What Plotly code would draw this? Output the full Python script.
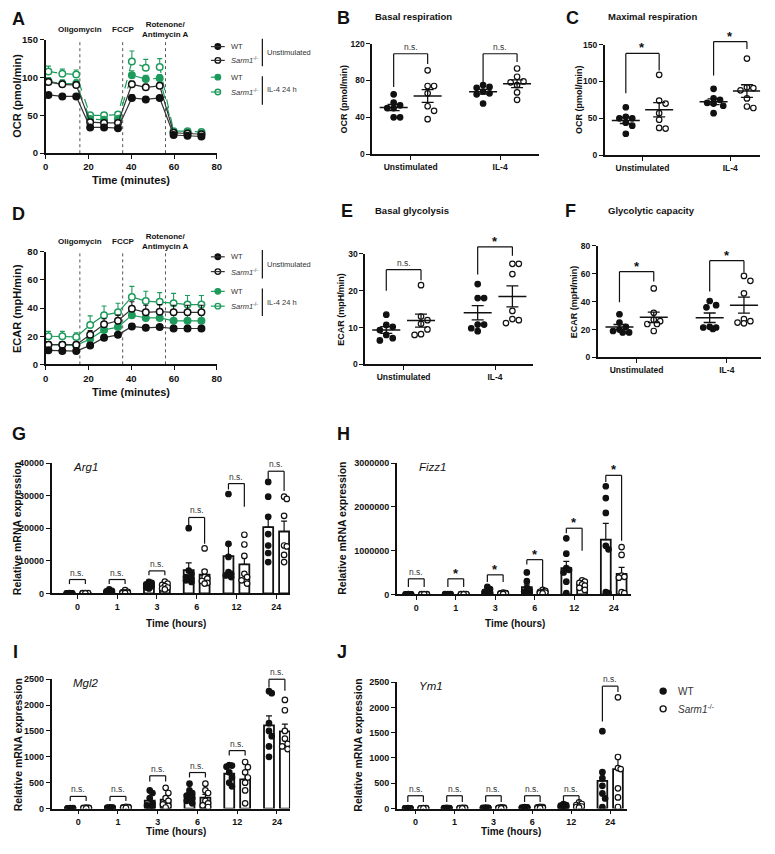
import numpy as np
import plotly.graph_objects as go

VW, VH = 775, 854          # browser window
OX, OY = 8, 8              # default page margin in the browser
W, H = VW - OX, VH - OY    # figure size so it fills the visible window
FONT = "Liberation Sans, Arial, Helvetica, sans-serif"
GREEN = "#1e9b5c"
BLACK = "#111111"
GREY = "#333333"

# ---------------- data ----------------
seahorse_time = [1.3, 7.8, 14.3, 20.8, 27.3, 33.8, 40.3, 46.8, 53.3, 59.8, 66.3, 72.8]
injection_time = [16, 36, 56]
injection_labels = ["Oligomycin", "FCCP", "Rotenone/<br>Antimycin A"]

ocr_wt_unstim = [77, 75, 75, 34, 34, 33, 73, 71, 73, 24, 23, 22]
ocr_wt_unstim_err = [3, 3, 3, 2, 2, 2, 4, 3, 3, 2, 2, 2]
ocr_ko_unstim = [94, 91, 90, 41, 40, 40, 91, 87, 89, 27, 26, 25]
ocr_ko_unstim_err = [4, 4, 4, 3, 3, 3, 4, 4, 4, 2, 2, 2]
ocr_wt_il4 = [95, 92, 92, 45, 44, 45, 103, 98, 99, 28, 27, 26]
ocr_wt_il4_err = [5, 5, 5, 3, 3, 3, 6, 5, 5, 2, 2, 2]
ocr_ko_il4 = [108, 105, 104, 50, 50, 51, 121, 113, 114, 29, 29, 28]
ocr_ko_il4_err = [7, 6, 6, 3, 3, 3, 14, 11, 11, 2, 2, 2]

ecar_wt_unstim = [10, 9.5, 9.5, 13.5, 19, 21, 27, 26, 26.5, 25.5, 25.5, 25.5]
ecar_wt_unstim_err = [1, 1, 1, 2, 2, 1.5, 2, 1.5, 1.5, 2, 2, 2]
ecar_ko_unstim = [14, 14, 14, 21, 28.5, 31, 39.5, 37, 37.5, 37, 37, 37]
ecar_ko_unstim_err = [2, 2, 2, 3, 4, 4, 5, 5, 5, 5, 5, 5]
ecar_wt_il4 = [14, 14, 13.5, 18, 24.5, 26.5, 35, 33, 33, 31, 31, 31]
ecar_wt_il4_err = [2, 2, 2, 3, 3, 3, 4, 4, 4, 4, 4, 4]
ecar_ko_il4 = [20, 20, 19.5, 28, 35, 37, 48, 45, 44.5, 43.5, 42.5, 42.5]
ecar_ko_il4_err = [3.5, 3.5, 3, 6.5, 6.5, 6.5, 7.5, 7, 6.5, 7, 6.5, 6.5]

conditions = ["Unstimulated", "IL-4"]

basal_resp_wt_unstim = [65, 56, 53, 50, 50, 40, 40]
basal_resp_ko_unstim = [91, 74, 74, 66, 52, 47, 38]
basal_resp_wt_il4 = [73, 75, 72, 66, 65, 68, 55]
basal_resp_ko_il4 = [93, 84, 79, 78, 75, 67, 59]
basal_resp_sig = ["n.s.", "n.s."]
basal_resp_br_top = [109, 109]
basal_resp_br_left = [73, 75]
basal_resp_br_right = [98, 100]

max_resp_wt_unstim = [65, 52, 50, 50, 44, 40, 29]
max_resp_ko_unstim = [109, 74, 70, 57, 48, 37, 36]
max_resp_wt_il4 = [90, 77, 75, 71, 70, 67, 57]
max_resp_ko_il4 = [131, 92, 91, 88, 77, 66, 64]
max_resp_sig = ["*", "*"]
max_resp_br_top = [138, 154]
max_resp_br_left = [84, 108]
max_resp_br_right = [115, 144]

basal_gly_wt_unstim = [13.5, 10.7, 10.2, 9.3, 8, 7.1, 6.5]
basal_gly_ko_unstim = [21.5, 13, 12, 11, 9.5, 8.2, 8]
basal_gly_wt_il4 = [21.8, 18, 18, 10.8, 10.8, 9.8, 9]
basal_gly_ko_il4 = [27.3, 27.3, 24.5, 14.5, 12.3, 11.2, 12]
basal_gly_sig = ["n.s.", "*"]
basal_gly_br_top = [25.7, 31.9]
basal_gly_br_left = [20, 24.4]
basal_gly_br_right = [22.8, 29.5]

gly_cap_wt_unstim = [31, 25, 22, 20, 19, 18, 18]
gly_cap_ko_unstim = [49.5, 32, 27, 26, 24, 24, 19]
gly_cap_wt_il4 = [40.5, 37.5, 36, 22, 21.5, 21.5, 20.5]
gly_cap_ko_il4 = [58.5, 55, 46, 27.5, 26, 25, 24.5]
gly_cap_sig = ["*", "*"]
gly_cap_br_top = [61.6, 69.4]
gly_cap_br_left = [39.6, 47.4]
gly_cap_br_right = [54.5, 60.9]

time_hours = ["0", "1", "3", "6", "12", "24"]

arg1_wt = [[50, 40, 30, 20, 20, 10, 10],
           [1200, 800, 600, 400, 300, 200, 100],
           [3500, 3200, 2800, 2500, 2200, 1800, 1500],
           [20000, 7000, 6000, 5000, 4500, 4000, 3500],
           [30500, 15200, 11200, 6500, 6000, 5500, 5000],
           [34200, 29700, 23500, 18200, 14700, 12400, 9600]]
arg1_ko = [[80, 60, 50, 40, 30, 20, 10],
           [1000, 500, 300, 200, 150, 100, 50],
           [3600, 3000, 2600, 2200, 1800, 1500, 1200],
           [13800, 6700, 5000, 4500, 3800, 3200, 3000],
           [18000, 15000, 11500, 6000, 5000, 4000, 3000],
           [29700, 29000, 23800, 14700, 14400, 11800, 9600]]
arg1_sig = ["n.s.", "n.s.", "n.s.", "n.s.", "n.s.", "n.s."]
arg1_br_top = [4250, 4250, 6900, 23300, 33700, 37500]
arg1_br_left = [2840, 2840, 5570, 19750, 31900, 35200]
arg1_br_right = [2840, 2840, 5570, 15200, 26600, 31400]

fizz1_wt = [[3000, 2000, 1500, 1000, 800, 500, 300],
            [5000, 4000, 3000, 2000, 1500, 1000, 500],
            [170000, 120000, 60000, 30000, 15000, 8000, 5000],
            [500000, 300000, 150000, 100000, 60000, 30000, 20000],
            [1280000, 930000, 600000, 560000, 500000, 290000, 30000],
            [2470000, 2200000, 1860000, 1110000, 1030000, 50000, 30000]]
fizz1_ko = [[5000, 4000, 3000, 2000, 1500, 1000, 500],
            [6000, 5000, 4000, 3000, 2000, 1000, 500],
            [40000, 30000, 25000, 20000, 15000, 10000, 5000],
            [100000, 80000, 60000, 50000, 40000, 30000, 20000],
            [320000, 290000, 260000, 230000, 200000, 150000, 100000],
            [1080000, 900000, 430000, 400000, 380000, 50000, 30000]]
fizz1_sig = ["n.s.", "*", "*", "*", "*", "*"]
fizz1_br_top = [355000, 355000, 446000, 793000, 1511000, 2720000]
fizz1_br_left = [166000, 166000, 280000, 680000, 1398000, 2570000]
fizz1_br_right = [166000, 166000, 280000, 166000, 997000, 1224000]

mgl2_wt = [[10, 8, 6, 5, 4, 3, 2],
           [25, 20, 18, 15, 12, 10, 8],
           [350, 300, 200, 100, 60, 40, 20],
           [480, 350, 300, 250, 200, 150, 100],
           [840, 830, 810, 700, 600, 500, 430],
           [2270, 2230, 1650, 1500, 1400, 1200, 1000]]
mgl2_ko = [[20, 15, 12, 10, 8, 6, 4],
           [35, 30, 25, 20, 15, 12, 10],
           [400, 300, 200, 150, 80, 50, 20],
           [480, 350, 300, 150, 100, 60, 30],
           [900, 800, 700, 600, 500, 350, 100],
           [2100, 1900, 1500, 1350, 1250, 1200, 1150]]
mgl2_sig = ["n.s.", "n.s.", "n.s.", "n.s.", "n.s.", "n.s."]
mgl2_br_top = [234, 234, 633, 696, 1120, 2500]
mgl2_br_left = [146, 146, 525, 601, 1025, 2342]
mgl2_br_right = [146, 146, 525, 601, 1025, 2278]

ym1_wt = [[8, 6, 5, 4, 3, 2, 1],
          [12, 10, 8, 6, 5, 4, 3],
          [20, 15, 12, 10, 8, 6, 4],
          [30, 25, 20, 15, 12, 10, 8],
          [90, 70, 60, 50, 40, 30, 20],
          [1530, 720, 600, 450, 300, 200, 30]]
ym1_ko = [[10, 8, 6, 5, 4, 3, 2],
          [15, 12, 10, 8, 6, 5, 4],
          [25, 20, 15, 12, 10, 8, 5],
          [35, 30, 25, 20, 15, 10, 8],
          [120, 90, 70, 50, 40, 30, 20],
          [2200, 1020, 800, 780, 400, 220, 30]]
ym1_sig = ["n.s.", "n.s.", "n.s.", "n.s.", "n.s.", "n.s."]
ym1_br_top = [253, 253, 253, 253, 253, 2422]
ym1_br_left = [130, 130, 130, 130, 130, 1721]
ym1_br_right = [130, 130, 130, 130, 130, 2305]

# ---------------- layout geometry (window pixels) ----------------
order = ["A", "B", "C", "D", "E", "F", "G", "H", "I", "J"]
geom = {"A": (43, 216, 34, 149), "B": (373, 542, 38, 150), "C": (608, 765, 39, 151),
        "D": (43, 216, 249, 363), "E": (366, 535, 251, 363), "F": (601, 766, 243, 356),
        "G": (49, 290, 463, 595), "H": (398, 635, 463, 596),
        "I": (49, 290, 682, 813), "J": (398, 630, 685, 813)}
xranges = {"A": (0, 80), "B": (-0.43, 1.44), "C": (-0.43, 1.34), "D": (0, 80),
           "E": (-0.42, 1.41), "F": (-0.43, 1.38), "G": (-0.65, 5.35), "H": (-0.49, 5.45),
           "I": (-0.67, 5.33), "J": (-0.48, 5.42)}
yranges = {"A": (0, 150), "B": (0, 120), "C": (0, 150), "D": (0, 80), "E": (0, 30),
           "F": (0, 80), "G": (0, 40000), "H": (0, 3000000), "I": (0, 2500), "J": (0, 2500)}
yticks = {"A": [0, 50, 100, 150], "B": [0, 40, 80, 120], "C": [0, 50, 100, 150],
          "D": [0, 20, 40, 60, 80], "E": [0, 10, 20, 30], "F": [0, 20, 40, 60, 80],
          "G": [0, 10000, 20000, 30000, 40000], "H": [0, 1000000, 2000000, 3000000],
          "I": [0, 500, 1000, 1500, 2000, 2500], "J": [0, 500, 1000, 1500, 2000, 2500]}

axref = {k: ("" if i == 0 else str(i + 1)) for i, k in enumerate(order)}

traces = []
shapes = []
annotations = []


def pxx(x):
    return (x - OX) / W


def pxy(y):
    return 1 - (y - OY) / H


def to_px(key, xv, yv):
    x0, x1, y0, y1 = geom[key]
    xr, yr = xranges[key], yranges[key]
    px = x0 + (xv - xr[0]) / (xr[1] - xr[0]) * (x1 - x0)
    py = y1 - (yv - yr[0]) / (yr[1] - yr[0]) * (y1 - y0)
    return px, py


def line_px(xa, ya, xb, yb, color=BLACK, width=1.3, dash=None):
    ln = dict(color=color, width=width)
    if dash:
        ln["dash"] = dash
    shapes.append(dict(type="line", xref="paper", yref="paper", x0=pxx(xa), y0=pxy(ya),
                       x1=pxx(xb), y1=pxy(yb), line=ln, layer="above"))


def text_px(txt, x, y, size, bold=False, xanchor="center", yanchor="middle", angle=0, color=BLACK):
    annotations.append(dict(text=txt, x=pxx(x), y=pxy(y), xref="paper", yref="paper",
                            showarrow=False, xanchor=xanchor, yanchor=yanchor, textangle=angle,
                            borderpad=0,
                            font=dict(family=FONT, size=size, color=color,
                                      weight="bold" if bold else "normal")))


def swarm(vals, key, d, maxoff):
    x0, x1, y0, y1 = geom[key]
    xr, yr = xranges[key], yranges[key]
    ppy = (y1 - y0) / (yr[1] - yr[0])
    ppx = (x1 - x0) / (xr[1] - xr[0])
    vals = np.asarray(vals, dtype=float)
    step = d / 2.0
    cands = [0.0]
    k = 1
    while k * step <= maxoff + 1e-9:
        cands += [k * step, -k * step]
        k += 1
    placed = []
    offs = np.zeros(len(vals))
    for i in np.argsort(-vals, kind="stable"):
        y = vals[i] * ppy
        chosen, bestc, bestd = None, 0.0, -1.0
        for c in cands:
            md = min([np.hypot(c - a, y - b) for a, b in placed], default=1e9)
            if md >= d:
                chosen = c
                break
            if md > bestd:
                bestd, bestc = md, c
        if chosen is None:
            chosen = bestc
        placed.append((chosen, y))
        offs[i] = chosen / ppx
    return offs


def bracket(key, xl_v, xr_v, top, left, right, label):
    xl, yt = to_px(key, xl_v, top)
    xr, _ = to_px(key, xr_v, top)
    _, yl = to_px(key, xl_v, left)
    _, yr = to_px(key, xr_v, right)
    line_px(xl, yt, xr, yt, width=1.2)
    line_px(xl, yt, xl, yl, width=1.2)
    line_px(xr, yt, xr, yr, width=1.2)
    if label == "*":
        text_px("*", (xl + xr) / 2, yt + 3, 13, bold=True, yanchor="bottom")
    else:
        text_px("n.s.", (xl + xr) / 2, yt - 1, 8.5, yanchor="bottom", color=GREY)


def refs(key):
    return "x" + axref[key], "y" + axref[key]


# ---------------- A & D: Seahorse time courses ----------------
def seahorse(key, series, dashed_green):
    xa, ya = refs(key)
    ymax = yranges[key][1]
    for t in injection_time:
        traces.append(go.Scatter(x=[t, t], y=[0, ymax], mode="lines", xaxis=xa, yaxis=ya,
                                 line=dict(color="#555555", width=1, dash="dot"),
                                 showlegend=False, hoverinfo="skip"))
    for vals, err, color, filled in series:
        dash = "dash" if (dashed_green and color == GREEN) else "solid"
        traces.append(go.Scatter(
            x=seahorse_time, y=vals, mode="lines+markers", xaxis=xa, yaxis=ya, showlegend=False,
            line=dict(color=color if color == GREEN else "#333333", width=1.2, dash=dash),
            marker=dict(size=6.5, color=color if filled else "white", line=dict(color=color, width=1.5)),
            error_y=dict(type="data", array=err, arrayminus=[0] * len(err), symmetric=False,
                         color=color, thickness=1.1, width=2.5)))


seahorse("A", [(ocr_ko_il4, ocr_ko_il4_err, GREEN, False), (ocr_wt_il4, ocr_wt_il4_err, GREEN, True),
               (ocr_ko_unstim, ocr_ko_unstim_err, BLACK, False), (ocr_wt_unstim, ocr_wt_unstim_err, BLACK, True)],
         True)
seahorse("D", [(ecar_ko_il4, ecar_ko_il4_err, GREEN, False), (ecar_wt_il4, ecar_wt_il4_err, GREEN, True),
               (ecar_ko_unstim, ecar_ko_unstim_err, BLACK, False), (ecar_wt_unstim, ecar_wt_unstim_err, BLACK, True)],
         False)

for key, ylab_y, ylab2 in [("A", 24, 23.5), ("D", 238, 238)]:
    for t, lab in zip(injection_time, injection_labels):
        px, _ = to_px(key, t, 0)
        text_px(lab, px, ylab2 if "<br>" in lab else ylab_y, 8, bold=True)

# ---------------- B, C, E, F: dot plots ----------------
OFF = 0.19


def dot_panel(key, groups, sig, top, left, right):
    xa, ya = refs(key)
    for ci, side, vals, filled in groups:
        center = ci + side * OFF
        offs = swarm(vals, key, 6.5, 12)
        traces.append(go.Scatter(
            x=list(center + offs), y=vals, mode="markers", xaxis=xa, yaxis=ya, showlegend=False,
            marker=dict(size=5.5, color=BLACK if filled else "white", line=dict(color=BLACK, width=1.2))))
        m = float(np.mean(vals))
        s = float(np.std(vals, ddof=1) / np.sqrt(len(vals)))
        traces.append(go.Scatter(
            x=[center], y=[m], mode="markers", xaxis=xa, yaxis=ya, showlegend=False,
            marker=dict(symbol="line-ew", size=20, line=dict(color=BLACK, width=1.5)),
            error_y=dict(type="data", array=[s], color=BLACK, thickness=1.3, width=6)))
    for ci in range(2):
        bracket(key, ci - OFF, ci + OFF, top[ci], left[ci], right[ci], sig[ci])


dot_panel("B", [(0, -1, basal_resp_wt_unstim, True), (0, 1, basal_resp_ko_unstim, False),
                (1, -1, basal_resp_wt_il4, True), (1, 1, basal_resp_ko_il4, False)],
          basal_resp_sig, basal_resp_br_top, basal_resp_br_left, basal_resp_br_right)
dot_panel("C", [(0, -1, max_resp_wt_unstim, True), (0, 1, max_resp_ko_unstim, False),
                (1, -1, max_resp_wt_il4, True), (1, 1, max_resp_ko_il4, False)],
          max_resp_sig, max_resp_br_top, max_resp_br_left, max_resp_br_right)
dot_panel("E", [(0, -1, basal_gly_wt_unstim, True), (0, 1, basal_gly_ko_unstim, False),
                (1, -1, basal_gly_wt_il4, True), (1, 1, basal_gly_ko_il4, False)],
          basal_gly_sig, basal_gly_br_top, basal_gly_br_left, basal_gly_br_right)
dot_panel("F", [(0, -1, gly_cap_wt_unstim, True), (0, 1, gly_cap_ko_unstim, False),
                (1, -1, gly_cap_wt_il4, True), (1, 1, gly_cap_ko_il4, False)],
          gly_cap_sig, gly_cap_br_top, gly_cap_br_left, gly_cap_br_right)

# ---------------- G-J: bar charts ----------------
BOFF = 0.2


def bar_panel(key, wt, ko, sig, top, left, right):
    xa, ya = refs(key)
    for side, groups, filled in [(-1, wt, True), (1, ko, False)]:
        xs = [i + side * BOFF for i in range(len(groups))]
        means = [float(np.mean(g)) for g in groups]
        sems = [float(np.std(g, ddof=1) / np.sqrt(len(g))) for g in groups]
        traces.append(go.Bar(
            x=xs, y=means, width=0.25, xaxis=xa, yaxis=ya, showlegend=False,
            marker=dict(color="white", line=dict(color=BLACK, width=1.8)),
            error_y=dict(type="data", array=sems, arrayminus=[0] * len(sems), symmetric=False,
                         color=BLACK, thickness=1.2, width=3)))
        for i, g in enumerate(groups):
            offs = swarm(g, key, 5.5, 5)
            traces.append(go.Scatter(
                x=list(xs[i] + offs), y=g, mode="markers", xaxis=xa, yaxis=ya, showlegend=False,
                marker=dict(size=5.5, color=BLACK if filled else "white", line=dict(color=BLACK, width=1.2))))
    for i in range(len(wt)):
        bracket(key, i - BOFF, i + BOFF, top[i], left[i], right[i], sig[i])


bar_panel("G", arg1_wt, arg1_ko, arg1_sig, arg1_br_top, arg1_br_left, arg1_br_right)
bar_panel("H", fizz1_wt, fizz1_ko, fizz1_sig, fizz1_br_top, fizz1_br_left, fizz1_br_right)
bar_panel("I", mgl2_wt, mgl2_ko, mgl2_sig, mgl2_br_top, mgl2_br_left, mgl2_br_right)
bar_panel("J", ym1_wt, ym1_ko, ym1_sig, ym1_br_top, ym1_br_left, ym1_br_right)

# ---------------- legends (overlay axis in window pixels) ----------------
OV = "11"


def legend_item(x, y, color, filled, line, text, size=5.5, fsize=7.5, dash="solid"):
    if line:
        line_px(x - 7, y, x + 7, y, color=color if color == GREEN else "#333333", width=1.2,
                dash=None if dash == "solid" else "dash")
    traces.append(go.Scatter(x=[x], y=[y], mode="markers", xaxis="x" + OV, yaxis="y" + OV,
                             showlegend=False, hoverinfo="skip",
                             marker=dict(size=size, color=color if filled else "white",
                                         line=dict(color=color, width=1.4))))
    text_px(text, x + 12 if line else x + 14, y, fsize, xanchor="left", color=GREY)


KO = "<i>Sarm1</i><sup>-/-</sup>"
for ys, dash, br in [((41, 55, 72, 87), "dash", ((33, 61, 47), (71, 100, 85))),
                     ((254, 269, 289, 304), "solid", ((247, 276, 262), (286, 314, 300)))]:
    legend_item(217, ys[0], BLACK, True, True, "WT")
    legend_item(217, ys[1], BLACK, False, True, KO)
    legend_item(217, ys[2], GREEN, True, True, "WT", dash=dash)
    legend_item(217, ys[3], GREEN, False, True, KO, dash=dash)
    (a0, a1, at), (b0, b1, bt) = br
    line_px(262, a0, 262, a1, color=BLACK, width=1.2)
    line_px(262, b0, 262, b1, color=BLACK, width=1.2)
    text_px("Unstimulated", 266, at, 7.5, xanchor="left", color=GREY)
    text_px("IL-4 24 h", 266, bt, 7.5, xanchor="left", color=GREY)

legend_item(667, 694, BLACK, True, False, "WT", size=6, fsize=10)
legend_item(667, 712, BLACK, False, False, KO, size=6, fsize=10)

# ---------------- text: panel letters, titles, axis titles ----------------
for lab, x, y in [("A", 8, 13), ("B", 336, 12), ("C", 568, 12), ("D", 8, 211), ("E", 340, 208),
                  ("F", 567, 208), ("G", 8, 434), ("H", 336, 434), ("I", 9, 654), ("J", 336, 654)]:
    text_px(lab, x, y, 18, bold=True, xanchor="left")

text_px("Basal respiration", 375, 11, 9.5, bold=True, xanchor="left")
text_px("Maximal respiration", 610, 11, 9.5, bold=True, xanchor="left")
text_px("Basal glycolysis", 375, 207, 9.5, bold=True, xanchor="left")
text_px("Glycolytic capacity", 610, 207, 9.5, bold=True, xanchor="left")

text_px("OCR (pmol/min)", 14, 91, 11, bold=True, angle=-90)
text_px("ECAR (mpH/min)", 14, 306, 11, bold=True, angle=-90)
text_px("Time (minutes)", 129, 176, 11, bold=True)
text_px("Time (minutes)", 129, 391, 11, bold=True)
text_px("OCR (pmol/min)", 344, 94, 9, bold=True, angle=-90)
text_px("OCR (pmol/min)", 582, 95, 9, bold=True, angle=-90)
text_px("ECAR (mpH/min)", 342, 307, 9, bold=True, angle=-90)
text_px("ECAR (mpH/min)", 577, 300, 9, bold=True, angle=-90)

for x, yc in [(14, 529), (343, 529), (15, 748), (359, 749)]:
    text_px("Relative mRNA expression", x, yc, 10.5, bold=True, angle=-90)
for x, y in [(175, 626), (517, 626), (175, 836), (513, 836)]:
    text_px("Time (hours)", x, y, 10, bold=True)

for key, gene in [("G", "Arg1"), ("H", "Fizz1"), ("I", "Mgl2"), ("J", "Ym1")]:
    x0, _, y0, _ = geom[key]
    text_px("<i>" + gene + "</i>", x0 + 21, y0 + 4, 11.5, xanchor="left")

# ---------------- axes ----------------
layout = dict(width=W, height=H, margin=dict(l=0, r=0, t=0, b=0), paper_bgcolor="white",
              plot_bgcolor="rgba(0,0,0,0)", showlegend=False, barmode="overlay",
              shapes=shapes, annotations=annotations, font=dict(family=FONT, color=BLACK))

tick_size = {"A": 9.5, "D": 9.5, "B": 8.5, "C": 8.5, "E": 8.5, "F": 8.5,
             "G": 9, "H": 9, "I": 9, "J": 9}
for key in order:
    x0, x1, y0, y1 = geom[key]
    n = axref[key]
    fnt = dict(family=FONT, size=tick_size[key], color=BLACK, weight="bold")
    common = dict(showline=True, linecolor=BLACK, linewidth=1.6, ticks="outside", ticklen=4,
                  tickwidth=1.4, tickcolor=BLACK, showgrid=False, zeroline=False, tickfont=fnt,
                  fixedrange=True)
    if key in ("A", "D"):
        xt = dict(tickvals=[0, 20, 40, 60, 80], ticktext=["0", "20", "40", "60", "80"])
    elif key in ("B", "C", "E", "F"):
        xt = dict(tickvals=[0, 1], ticktext=conditions)
    else:
        xt = dict(tickvals=list(range(6)), ticktext=time_hours)
    layout["xaxis" + n] = dict(domain=[pxx(x0), pxx(x1)], range=list(xranges[key]),
                               anchor="y" + n, **xt, **common)
    layout["yaxis" + n] = dict(domain=[pxy(y1), pxy(y0)], range=list(yranges[key]),
                               anchor="x" + n, tickvals=yticks[key],
                               ticktext=[str(v) for v in yticks[key]], **common)

layout["xaxis" + OV] = dict(domain=[0, 1], range=[OX, OX + W], visible=False, anchor="y" + OV,
                            fixedrange=True)
layout["yaxis" + OV] = dict(domain=[0, 1], range=[OY + H, OY], visible=False, anchor="x" + OV,
                            fixedrange=True)

fig = go.Figure(data=traces, layout=layout)
fig.write_html("out.html")
